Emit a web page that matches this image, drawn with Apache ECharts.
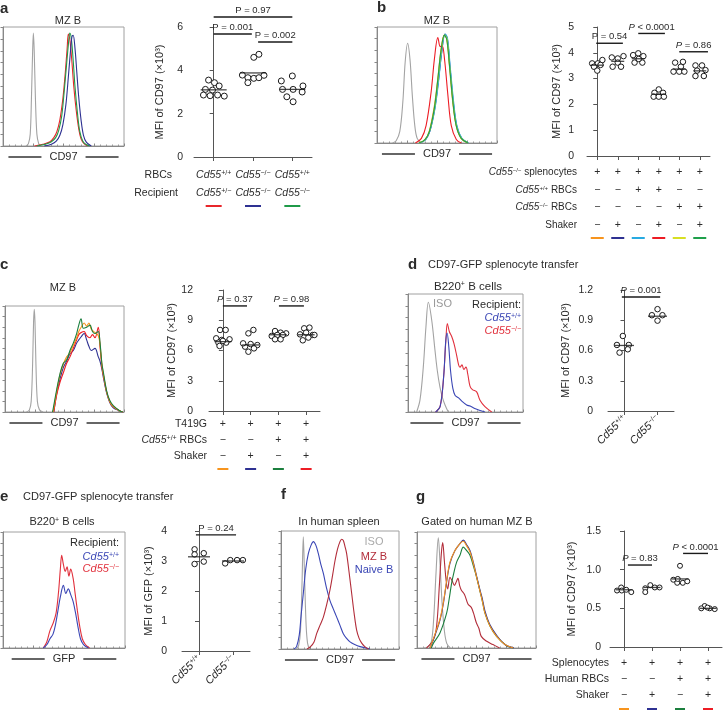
<!DOCTYPE html>
<html>
<head>
<meta charset="utf-8">
<script src="https://cdn.jsdelivr.net/npm/echarts@6/dist/echarts.min.js"></script>
<style>
  html, body { margin: 0; padding: 0; background: #fff; }
  #fig { width: 727px; height: 715px; }
</style>
</head>
<body>
<div id="fig"></div>
<script>
// ---------- panel a ----------
const aRBCs = ['+/+', '−/−', '+/+'];
const aRecipient = ['+/−', '−/−', '−/−'];
const aKey = ['#e8262b', '#2e3192', '#1f9a48'];
// [x jitter, MFI] per group
const aPts = [
  [[-0.13, 3.55], [0.02, 3.43], [0.14, 3.28], [-0.21, 3.12], [-0.03, 3.09], [-0.26, 2.86], [-0.09, 2.83], [0.10, 2.86], [0.27, 2.81]],
  [[0.02, 4.6], [0.15, 4.74], [-0.27, 3.78], [-0.13, 3.66], [0.02, 3.63], [0.15, 3.66], [0.28, 3.77], [-0.13, 3.43]],
  [[-0.28, 3.51], [0, 3.74], [-0.25, 3.12], [0.02, 3.12], [0.27, 3.28], [0.25, 3.0], [-0.14, 2.78], [0.02, 2.55]]
];
const aMed = [3.1, 3.88, 3.12];
const aP = [[0, 2, 6.46, 'P = 0.97'], [0, 0.97, 5.68, 'P = 0.001'], [1.13, 2, 5.31, 'P = 0.002']];
const aIso = [[19, 0], [21, 2], [22.5, 10], [23.5, 40], [24.5, 80], [25.1, 95], [25.8, 80], [26.8, 40], [28, 10], [29.5, 2], [31, 0]];
const aRed = [[26, 0], [33, 1.5], [38.8, 3.6], [42, 7], [44.5, 12], [47, 22], [49.5, 40], [51.5, 62], [53, 82], [54, 94], [55.4, 88], [57, 70], [58.5, 50], [60.5, 30], [62.5, 15], [64.5, 6], [67, 2], [70, 0]];
const aGreen = [[28, 0], [35, 1.5], [40, 3.5], [43.5, 7], [46, 13], [48.5, 25], [50.5, 45], [52.5, 68], [54, 85], [55.2, 95], [56.5, 90], [58, 72], [59.5, 50], [61.5, 28], [63.5, 12], [66, 4], [69, 1], [72, 0]];
const aBlue = [[34, 0], [40, 1.5], [44, 4], [47, 9], [49.5, 18], [52, 35], [54, 58], [55.8, 80], [57, 92], [58, 93], [59.5, 82], [61, 62], [62.5, 42], [64.5, 22], [66.5, 9], [69, 3], [73, 0]];

// ---------- panel b ----------
const bSplen = ['+', '+', '+', '+', '+', '+'];
const bWT = ['−', '−', '+', '+', '−', '−'];
const bKO = ['−', '−', '−', '−', '+', '+'];
const bShaker = ['−', '+', '−', '+', '−', '+'];
const bKey = ['#f7941d', '#2e3192', '#27aae1', '#ed1c24', '#d7df23', '#1fa04b'];
const bPts = [
  [[-0.25, 3.59], [0.03, 3.59], [0.25, 3.72], [-0.16, 3.46], [0.16, 3.53], [0, 3.31]],
  [[-0.29, 3.82], [0, 3.78], [0.28, 3.87], [0, 3.62], [-0.25, 3.46], [0.16, 3.46]],
  [[-0.25, 3.91], [0, 3.98], [0.25, 3.87], [-0.18, 3.62], [0.2, 3.62], [0.02, 3.76]],
  [[0, 2.58], [-0.21, 2.45], [0.21, 2.45], [-0.25, 2.3], [0, 2.3], [0.25, 2.3]],
  [[-0.2, 3.62], [0.18, 3.65], [0.08, 3.46], [-0.28, 3.27], [0, 3.27], [0.25, 3.27]],
  [[-0.21, 3.51], [0.11, 3.51], [0.28, 3.33], [-0.13, 3.31], [-0.21, 3.1], [0.2, 3.1]]
];
const bMed = [3.52, 3.67, 3.77, 2.39, 3.37, 3.3];
const bP = [[-0.05, 1.25, 4.37, 'P = 0.54'], [2, 3.3, 4.75, '{i|P} < 0.0001'], [4, 5.4, 4.04, '{i|P} = 0.86']];
const bIso = [[13, 0], [16, 2], [19, 10], [21.5, 35], [23.5, 70], [25.5, 86], [27.5, 72], [29.5, 40], [31.5, 15], [33.5, 4], [37, 0]];
const bRed = [[32, 0], [37, 4], [40.9, 15], [45.1, 44], [47.9, 73], [50.7, 91], [52.7, 83], [54.3, 84], [56.3, 72], [59.1, 41], [61.9, 15], [66.1, 3], [70.3, 0]];
const bOrange = [[35, 0], [40, 3], [43.5, 10], [47.5, 30], [50.5, 54], [53.3, 80], [56, 93], [58, 90], [60.3, 67], [63, 36], [66, 15], [70, 4], [75.5, 0]];
const bBlue = [[35.5, 0], [40.5, 3], [44, 10], [48, 29], [51, 52], [54, 79], [56.6, 94], [58.6, 90], [60.8, 66], [63.6, 35], [66.4, 15], [70.6, 4], [76, 0]];
const bCyan = [[35.5, 0], [40.5, 3], [44, 10], [48.2, 29], [51.2, 52], [54, 79], [56.8, 94], [58.8, 90], [61, 66], [63.8, 36], [66.6, 15], [70.8, 4], [76.3, 0]];
const bYellow = [[35, 0], [40, 3], [43.7, 10], [47.9, 30], [50.7, 53], [53.5, 79], [56.3, 93], [58.3, 90], [60.5, 67], [63.3, 36], [66.1, 15], [70.3, 4], [75.9, 0]];
const bGreen = [[35, 0], [40, 3], [43.7, 10], [47.8, 30], [50.6, 54], [53.4, 80], [56.2, 93], [58.2, 89], [60.4, 67], [63.2, 36], [66, 15], [70.2, 4], [75.8, 0]];

// ---------- panel c ----------
const cT419G = ['+', '+', '+', '+'];
const cRBCs = ['−', '−', '+', '+'];
const cShaker = ['−', '+', '−', '+'];
const cKey = ['#f7941d', '#2e3192', '#1b7f3e', '#ed1c24'];
const cPts = [
  [[-0.1, 8.04], [0.1, 8.04], [-0.24, 7.21], [-0.04, 7.05], [0.24, 7.11], [-0.16, 6.78], [0.12, 6.78], [-0.12, 6.45], [0, 6.95]],
  [[-0.08, 7.7], [0.1, 8.04], [-0.2, 6.38], [0, 6.64], [0.24, 6.54], [-0.08, 5.88], [0.12, 6.21], [-0.27, 6.71]],
  [[-0.12, 7.93], [0.08, 7.77], [0.28, 7.7], [-0.24, 7.44], [-0.04, 7.54], [0.16, 7.54], [-0.12, 7.11], [0.08, 7.11]],
  [[-0.07, 8.2], [0.12, 8.27], [-0.22, 7.6], [0, 7.77], [0.24, 7.54], [-0.12, 7.01], [0.08, 7.28], [0.3, 7.54]]
];
const cMed = [6.88, 6.55, 7.56, 7.56];
const cP = [[0.0, 0.87, 10.42, '{i|P} = 0.37'], [2.02, 2.92, 10.42, '{i|P} = 0.98']];
const cIso = [[18, 0], [20.5, 2], [22, 10], [23.2, 45], [24, 85], [24.6, 97], [25.2, 85], [26, 45], [27.2, 10], [29, 2], [32, 0]];
const cGreen = [[40, 0], [43.4, 21], [46.2, 36], [49, 46], [51.8, 49], [54.6, 58], [57.4, 65], [60.2, 74], [62, 82], [63.9, 88], [65.8, 79], [68.6, 80], [71.4, 82], [73.5, 76], [75.6, 74], [78.4, 76], [79.8, 66], [81.5, 45], [82.6, 38], [85.4, 20], [88, 11], [91, 6], [96.6, 1], [99, 0]];
const cOrange = [[40.5, 0], [43.4, 19], [46.2, 35], [49, 45], [51.8, 52], [54.6, 56], [57.4, 63], [60.2, 70], [62, 76], [64, 80], [66.5, 84], [68.6, 81], [70.5, 84], [72.5, 78], [75.6, 75], [78.4, 72], [79.8, 64], [81.5, 44], [82.6, 36], [85.4, 19], [88, 10], [91, 5], [96.6, 1], [99, 0]];
const cRed = [[41, 0], [43.4, 16], [46.2, 28], [49, 37], [51.8, 46], [54.6, 52], [57.4, 60], [60.2, 68], [62, 73], [64, 75], [66.5, 76], [68.6, 72], [71.4, 70], [73.5, 73], [75.6, 70], [78.4, 80], [79.8, 62], [81.5, 42], [82.6, 35], [85.4, 19], [88, 10], [91, 5], [96.6, 1], [99, 0]];
const cBlue = [[41, 0], [43.4, 17], [46.2, 31], [49, 42], [51.8, 48], [54.6, 55], [57.4, 58], [60.2, 65], [62, 68], [64, 71], [66.5, 74], [68.6, 68], [70.5, 62], [72.5, 58], [75.6, 60], [78.4, 52], [79.8, 48], [81.5, 40], [82.6, 33], [85.4, 18], [88, 9], [91, 4], [96.6, 1], [99, 0]];

// ---------- panel d ----------
const dGroups = ['+/+', '−/−'];
const dPts = [
  [[-0.05, 0.744], [-0.23, 0.655], [0.13, 0.655], [-0.15, 0.579], [0.1, 0.612]],
  [[0, 1.01], [-0.17, 0.95], [0.15, 0.95], [0, 0.896]]
];
const dMed = [0.65, 0.94];
const dP = [[-0.08, 1.08, 1.13, '{i|P} = 0.001']];
const dIso = [[7.5, 0], [10.4, 10], [13.3, 38], [15.6, 72], [17.7, 93], [20.6, 78], [23.5, 52], [25.5, 35], [27.8, 21], [30, 12], [32.2, 6], [35, 0]];
const dBlue = [[24, 0], [28, 5], [31, 30], [32.8, 60], [34, 67], [35.5, 55], [37, 35], [39, 20], [41, 14], [44, 12], [47, 9], [51, 6], [54, 5], [58, 3], [62, 1.5], [67, 0]];
const dRed = [[24, 0], [28, 5], [31, 30], [33, 62], [34.2, 75], [36, 68], [38, 64], [40, 58], [42.3, 48], [44, 40], [45.2, 38], [47, 40], [48.5, 36], [50.4, 38], [52, 32], [53.9, 22], [56, 19], [59.7, 17], [62.6, 10], [66.9, 4.5], [72.8, 0]];

// ---------- panel e ----------
const eGroups = ['+/+', '−/−'];
const ePts = [
  [[-0.13, 3.39], [-0.13, 3.22], [0.14, 3.26], [-0.13, 2.9], [0.14, 2.98]],
  [[-0.23, 2.92], [-0.08, 3.03], [0.12, 3.03], [0.29, 3.03]]
];
const eMed = [3.14, 3.0];
const eP = [[-0.09, 1.09, 3.87, 'P = 0.24']];
const eRed = [[33, 0], [35.8, 5], [38.5, 15], [41.3, 22], [43.5, 30], [45.5, 48], [47, 68], [48.1, 80], [49.5, 72], [51, 66], [52.5, 70], [54, 62], [55.5, 68], [57.5, 60], [59, 48], [61, 32], [63, 18], [65, 8], [67.5, 3], [71, 0]];
const eBlue = [[33, 0], [36, 3], [38.5, 8], [41, 12], [43, 20], [45, 32], [47, 44], [49.5, 54], [51.5, 47], [53.5, 51], [55.5, 46], [57.5, 40], [59.5, 30], [61.5, 18], [63.5, 8], [66, 3], [70, 0]];

// ---------- panel f ----------
const fIso = [[13, 0], [15, 3], [16.5, 15], [17.8, 55], [18.9, 95], [20, 60], [21.3, 20], [22.5, 5], [24, 0]];
const fNaive = [[11, 0], [13.2, 2], [15.5, 12], [17, 28], [18.9, 47], [21, 68], [23.2, 81], [25.5, 88], [27.4, 91], [29.5, 88], [31.6, 81], [33.7, 72], [35.9, 64], [38.5, 52], [41.5, 41], [44.3, 34], [47.2, 27], [50, 20], [52.8, 13], [55.6, 9], [58.5, 6], [62, 4], [67, 2], [75.4, 0]];
const fMZ = [[22, 0], [25, 2], [28, 6], [30.2, 13], [33, 20], [35.9, 27], [38.8, 38], [41.5, 50], [43.8, 63], [45.8, 75], [48, 85], [50, 91], [51.4, 93], [52.8, 92], [54.2, 87], [55.6, 81], [57.7, 65], [59.9, 47], [62, 30], [64.1, 16], [66.2, 9], [68.4, 5], [71, 2], [74, 0]];

// ---------- panel g ----------
const gSplen = ['+', '+', '+', '+'];
const gRBCs = ['−', '−', '+', '+'];
const gShaker = ['−', '+', '−', '+'];
const gKey = ['#f7941d', '#2e3192', '#1b7f3e', '#ed1c24'];
const gPts = [
  [[-0.25, 0.73], [-0.1, 0.77], [-0.08, 0.73], [0.08, 0.74], [0.26, 0.71]],
  [[-0.24, 0.76], [-0.06, 0.8], [-0.24, 0.71], [0.1, 0.77], [0.27, 0.77]],
  [[0, 1.05], [-0.24, 0.87], [-0.1, 0.83], [0.1, 0.83], [0.26, 0.85], [-0.08, 0.88]],
  [[-0.12, 0.53], [-0.24, 0.5], [0.06, 0.5], [0.24, 0.49], [-0.02, 0.51]]
];
const gMed = [0.74, 0.77, 0.88, 0.5];
const gP = [[0.14, 1.0, 1.06, '{i|P} = 0.83'], [2.11, 3.0, 1.21, '{i|P} < 0.0001']];
const gIso = [[5, 0], [9, 1], [12, 5], [14, 25], [16, 65], [17.9, 95], [19.5, 70], [21, 40], [23, 15], [25, 4], [28, 0]];
const gRed = [[8, 0], [13.7, 7], [16.5, 19], [18.8, 54], [20.5, 82], [21.6, 91], [23, 75], [24.5, 58], [25.8, 51], [27.7, 61], [29.5, 58], [31.5, 54], [33, 57], [34.4, 60], [35.8, 54], [37.2, 50], [40, 46], [42.8, 38], [45.6, 35], [47.5, 30], [49.8, 22], [52, 17], [54, 10], [58.2, 6], [63.8, 3], [69.4, 0]];
const gGreen = [[12, 0], [13.7, 4], [19.3, 13], [24.9, 30], [27, 42], [29.1, 56], [31, 65], [33.3, 74], [36.1, 80], [38.9, 87], [41.7, 84], [44.5, 80], [47.3, 71], [50.1, 61], [52.9, 49], [55, 40], [57.1, 30], [61.3, 19], [66.9, 10], [75.3, 2], [81, 0]];
const gBlue = [[11, 0], [15.1, 11], [19.3, 24], [22.1, 38], [24.9, 57], [27.7, 73], [31.9, 84], [36.1, 90], [38.9, 93], [41.7, 89], [44.5, 84], [47.3, 74], [50.1, 62], [52.9, 50], [55, 42], [57.1, 32], [61.3, 20], [66.9, 11], [73.9, 3], [81.5, 0]];
const gOrange = [[10.9, 0], [15.1, 12], [19.3, 25], [22.1, 39], [24.9, 58], [27.7, 74], [31.9, 84], [36.1, 90], [38.9, 92], [41.7, 88], [44.5, 83], [47.3, 73], [50.1, 61], [52.9, 49], [55, 40], [57.1, 30], [61.3, 19], [66.9, 10], [73.9, 3], [80.9, 0]];

// ---------- styling ----------
const F = 'Liberation Sans, Arial, sans-serif';
const INK = '#2b2b2b';
const AX = '#555';
const FR = '#a0a0a0';
const GRAY = '#a3a3a3';
const BLUE2 = '#3a46b5';
const RED2 = '#e1303c';
const DRED = '#b22d3a';

function rs(color, size) {
  return {
    i: { fontStyle: 'italic', fontSize: size, color, fill: color, fontFamily: F },
    s: { fontSize: Math.round(size * 0.62), color, fill: color, fontFamily: F, verticalAlign: 'top', lineHeight: Math.round(size * 0.7) }
  };
}
const cd = (g) => '{i|Cd55}{s|' + g + '}';

const grids = [], xAxes = [], yAxes = [], series = [];

function histPanel(box, curves, label) {
  const g = grids.length;
  grids.push({ left: box[0], top: box[1], width: box[2], height: box[3], show: true, borderColor: FR, borderWidth: 1 });
  const xi = xAxes.length, yi = yAxes.length;
  xAxes.push({
    gridIndex: g, type: 'value', min: 0, max: 100, interval: 25, position: 'bottom',
    axisLine: { show: true, lineStyle: { color: '#888' } },
    axisTick: { show: true, inside: true, length: 2.5, lineStyle: { color: '#888' } },
    minorTick: { show: true, splitNumber: 5, length: 1.5, lineStyle: { color: '#999' } },
    axisLabel: { show: false }, splitLine: { show: false },
    name: '{l| }{c|' + label + '}{l| }', nameLocation: 'middle', nameGap: 11,
    nameTextStyle: {
      verticalAlign: 'middle', color: INK,
      rich: {
        l: { width: 33, height: 1.3, backgroundColor: '#333', verticalAlign: 'middle' },
        c: { fontSize: 11, fontFamily: F, color: INK, padding: [0, 8], verticalAlign: 'middle' }
      }
    }
  });
  yAxes.push({
    gridIndex: g, type: 'value', min: 0, max: 100, interval: 10,
    axisLine: { show: true, lineStyle: { color: '#888' } },
    axisTick: { show: true, length: 2.5, lineStyle: { color: '#888' } },
    axisLabel: { show: false }, splitLine: { show: false }
  });
  curves.forEach(([data, color]) => series.push({
    type: 'line', xAxisIndex: xi, yAxisIndex: yi, data, smooth: 0.35,
    showSymbol: false, symbol: 'none', silent: true,
    lineStyle: { color, width: 1.1 }
  }));
}

function rowAxis(g, labels, name, off, gap, fs) {
  xAxes.push({
    gridIndex: g, type: 'category', position: 'bottom', offset: off,
    data: labels.map((_, i) => String(i)),
    axisLine: { show: false }, axisTick: { show: false }, splitLine: { show: false },
    axisLabel: {
      interval: 0, margin: 0, verticalAlign: 'middle', fontSize: 10.5, color: INK, fontFamily: F,
      formatter: (v, i) => labels[i], rich: rs(INK, 10.5)
    },
    name, nameLocation: 'start', nameGap: gap,
    nameTextStyle: { align: 'right', verticalAlign: 'middle', fontSize: fs, color: INK, fontFamily: F, rich: rs(INK, fs) }
  });
}

function keyAxis(g, colors, off, w) {
  const rich = {};
  colors.forEach((c, i) => { rich['k' + i] = { width: w, height: 2, backgroundColor: c }; });
  xAxes.push({
    gridIndex: g, type: 'category', position: 'bottom', offset: off,
    data: colors.map((_, i) => String(i)),
    axisLine: { show: false }, axisTick: { show: false }, splitLine: { show: false },
    axisLabel: { interval: 0, margin: 0, verticalAlign: 'middle', formatter: (v, i) => '{k' + i + '| }', rich }
  });
}

function dotPanel(p) {
  const g = grids.length;
  grids.push({ left: p.box[0], top: p.box[1], width: p.box[2], height: p.box[3] });
  const n = p.pts.length;
  const yi = yAxes.length;
  yAxes.push({
    gridIndex: g, type: 'value', min: 0, max: p.yMax, interval: p.yStep, offset: p.yOff,
    axisLine: { show: true, lineStyle: { color: AX } },
    axisTick: { show: true, length: 4, lineStyle: { color: AX } },
    axisLabel: { fontSize: 10.5, color: INK, fontFamily: F, margin: 6, formatter: p.yFmt || (v => String(v)) },
    splitLine: { show: false },
    name: p.yName, nameLocation: 'middle', nameGap: p.yGap,
    nameTextStyle: { fontSize: 11, color: INK, fontFamily: F }
  });
  xAxes.push({
    gridIndex: g, type: 'category', position: 'bottom',
    data: p.pts.map((_, i) => String(i)),
    axisLine: { show: true, onZero: false, lineStyle: { color: AX } },
    axisTick: { show: true, alignWithLabel: true, length: 4, lineStyle: { color: AX } },
    axisLabel: p.xLabels ? {
      interval: 0, rotate: 45, margin: 6, fontSize: 11, color: INK, fontFamily: F,
      formatter: (v, i) => cd(p.xLabels[i]), rich: rs(INK, 11)
    } : { show: false },
    splitLine: { show: false }
  });
  const hx = xAxes.length;
  xAxes.push({ gridIndex: g, type: 'value', min: -0.5, max: n - 0.5, show: false, position: 'top' });
  (p.rows || []).forEach(r => rowAxis(g, r.labels, r.name, r.off, r.gap, p.rowFs || 10.5));
  if (p.key) keyAxis(g, p.key.colors, p.key.off, p.key.w);

  series.push({
    type: 'scatter', xAxisIndex: hx, yAxisIndex: yi, silent: true,
    data: p.pts.flatMap((grp, i) => grp.map(pt => [i + pt[0], pt[1]])),
    symbol: 'circle', symbolSize: p.size,
    itemStyle: { color: '#fff', borderColor: '#1a1a1a', borderWidth: 1, opacity: 1 },
    z: 2
  });
  series.push({
    type: 'scatter', xAxisIndex: hx, yAxisIndex: yi, silent: true,
    data: p.med.map((m, i) => [i, m]),
    symbol: 'rect', symbolSize: [p.medW, 1.3],
    itemStyle: { color: '#1a1a1a' }, z: 3
  });
  series.push({
    type: 'custom', xAxisIndex: hx, yAxisIndex: yi, silent: true, clip: false,
    data: p.pv.map(b => [b[0], b[1], b[2]]),
    encode: { x: [0, 1], y: 2 },
    renderItem: (params, api) => {
      const a = api.coord([api.value(0), api.value(2)]);
      const b = api.coord([api.value(1), api.value(2)]);
      return {
        type: 'group', children: [
          { type: 'line', shape: { x1: a[0], y1: a[1], x2: b[0], y2: b[1] }, style: { stroke: '#1a1a1a', lineWidth: 1.4 } },
          {
            type: 'text', x: (a[0] + b[0]) / 2, y: a[1] - 1.5,
            style: {
              text: p.pv[params.dataIndex][3], fill: INK, fontSize: 9.5, fontFamily: F,
              align: 'center', verticalAlign: 'bottom', textAlign: 'center', textVerticalAlign: 'bottom',
              rich: { i: { fontStyle: 'italic', fontSize: 9.5, fontFamily: F, fill: INK, color: INK } }
            }
          }
        ]
      };
    }
  });
}

// ---------- build panels ----------
histPanel([3, 27, 121, 119], [[aIso, GRAY], [aRed, aKey[0]], [aGreen, aKey[2]], [aBlue, aKey[1]]], 'CD97');
dotPanel({
  box: [194, 27, 118, 130], yOff: 5, yMax: 6, yStep: 2, yName: 'MFI of CD97 (×10³)', yGap: 24,
  pts: aPts, med: aMed, medW: 26, pv: aP, size: 6,
  rows: [
    { labels: aRBCs.map(cd), name: 'RBCs', off: 18, gap: 22 },
    { labels: aRecipient.map(cd), name: 'Recipient', off: 36, gap: 16 }
  ],
  key: { colors: aKey, off: 49, w: 16 }
});

histPanel([377, 27, 120, 116],
  [[bIso, GRAY], [bOrange, bKey[0]], [bBlue, bKey[1]], [bCyan, bKey[2]], [bRed, bKey[3]], [bYellow, bKey[4]], [bGreen, bKey[5]]], 'CD97');
dotPanel({
  box: [587, 27, 123, 129], yOff: 7, yMax: 5, yStep: 1, yName: 'MFI of CD97 (×10³)', yGap: 18,
  pts: bPts, med: bMed, medW: 13, pv: bP, size: 5.5, rowFs: 10,
  rows: [
    { labels: bSplen, name: cd('−/−') + ' splenocytes', off: 16, gap: 10 },
    { labels: bWT, name: cd('+/+') + ' RBCs', off: 34, gap: 10 },
    { labels: bKO, name: cd('−/−') + ' RBCs', off: 51, gap: 10 },
    { labels: bShaker, name: 'Shaker', off: 69, gap: 10 }
  ],
  key: { colors: bKey, off: 82, w: 13 }
});

histPanel([5, 306, 119, 106], [[cIso, GRAY], [cBlue, cKey[1]], [cRed, cKey[3]], [cOrange, cKey[0]], [cGreen, cKey[2]]], 'CD97');
dotPanel({
  box: [209, 290, 111, 121], yOff: 10, yMax: 12, yStep: 3, yName: 'MFI of CD97 (×10³)', yGap: 22,
  pts: cPts, med: cMed, medW: 17, pv: cP, size: 5.5,
  rows: [
    { labels: cT419G, name: 'T419G', off: 13, gap: 2 },
    { labels: cRBCs, name: cd('+/+') + ' RBCs', off: 29, gap: 2 },
    { labels: cShaker, name: 'Shaker', off: 45, gap: 2 }
  ],
  key: { colors: cKey, off: 58, w: 11 }
});

histPanel([408, 294, 115, 118], [[dIso, GRAY], [dRed, RED2], [dBlue, BLUE2]], 'CD97');
dotPanel({
  box: [608, 290, 66, 121], yOff: 9, yMax: 1.2, yStep: 0.3, yName: 'MFI of CD97 (×10³)', yGap: 28,
  yFmt: v => (v === 0 ? '0' : v.toFixed(1)),
  pts: dPts, med: dMed, medW: 19, pv: dP, size: 5.5, xLabels: dGroups
});

histPanel([3, 532, 122, 116], [[eRed, RED2], [eBlue, BLUE2]], 'GFP');
dotPanel({
  box: [182, 531, 68, 120], yOff: 9, yMax: 4, yStep: 1, yName: 'MFI of GFP (×10³)', yGap: 19,
  pts: ePts, med: eMed, medW: 22, pv: eP, size: 5.5, xLabels: eGroups
});

histPanel([281, 531, 118, 118], [[fIso, GRAY], [fNaive, BLUE2], [fMZ, DRED]], 'CD97');

histPanel([417, 532, 119, 116], [[gIso, GRAY], [gRed, DRED], [gGreen, gKey[2]], [gBlue, gKey[1]], [gOrange, gKey[0]]], 'CD97');
dotPanel({
  box: [610, 531, 112, 120], yOff: 3, yMax: 1.5, yStep: 0.5, yName: 'MFI of CD97 (×10³)', yGap: 30,
  yFmt: v => (v === 0 ? '0' : v.toFixed(1)),
  pts: gPts, med: gMed, medW: 17, pv: gP, size: 5,
  rows: [
    { labels: gSplen, name: 'Splenocytes', off: 16, gap: 1 },
    { labels: gRBCs, name: 'Human RBCs', off: 32, gap: 1 },
    { labels: gShaker, name: 'Shaker', off: 48, gap: 1 }
  ],
  key: { colors: gKey, off: 62, w: 10 }
});

// ---------- free text ----------
function txt(x, y, text, o) {
  o = o || {};
  const color = o.color || INK, size = o.size || 11;
  return {
    type: 'text', x, y, silent: true,
    style: {
      text, fill: color, fontSize: size, fontFamily: F, fontWeight: o.bold ? 'bold' : 'normal',
      align: o.align || 'left', verticalAlign: 'middle', textAlign: o.align || 'left', textVerticalAlign: 'middle',
      rich: rs(color, size)
    }
  };
}
const elements = [
  txt(0, 9, 'a', { bold: true, size: 15 }),
  txt(377, 8, 'b', { bold: true, size: 15 }),
  txt(0, 265, 'c', { bold: true, size: 15 }),
  txt(408, 265, 'd', { bold: true, size: 15 }),
  txt(0, 497, 'e', { bold: true, size: 15 }),
  txt(281, 495, 'f', { bold: true, size: 15 }),
  txt(416, 497, 'g', { bold: true, size: 15 }),

  txt(68, 21, 'MZ B', { align: 'center' }),
  txt(437, 21, 'MZ B', { align: 'center' }),
  txt(63, 288, 'MZ B', { align: 'center' }),

  txt(428, 265, 'CD97-GFP splenocyte transfer'),
  txt(468, 287, 'B220{s|+} B cells', { align: 'center', size: 11.5 }),
  txt(433, 304, 'ISO', { color: '#999' }),
  txt(521, 305, 'Recipient:', { align: 'right' }),
  txt(521, 318, cd('+/+'), { align: 'right', color: BLUE2 }),
  txt(521, 331, cd('−/−'), { align: 'right', color: RED2 }),

  txt(23, 497, 'CD97-GFP splenocyte transfer'),
  txt(62, 522, 'B220{s|+} B cells', { align: 'center' }),
  txt(119, 543, 'Recipient:', { align: 'right' }),
  txt(119, 557, cd('+/+'), { align: 'right', color: BLUE2 }),
  txt(119, 569, cd('−/−'), { align: 'right', color: RED2 }),

  txt(339, 522, 'In human spleen', { align: 'center' }),
  txt(374, 542, 'ISO', { align: 'center', color: '#aaa' }),
  txt(374, 557, 'MZ B', { align: 'center', color: DRED }),
  txt(374, 570, 'Naive B', { align: 'center', color: BLUE2 }),

  txt(477, 522, 'Gated on human MZ B', { align: 'center' })
];

const chart = echarts.init(document.getElementById('fig'));
chart.setOption({
  animation: false,
  backgroundColor: '#fff',
  grid: grids,
  xAxis: xAxes,
  yAxis: yAxes,
  series,
  graphic: { elements }
});
</script>
</body>
</html>
